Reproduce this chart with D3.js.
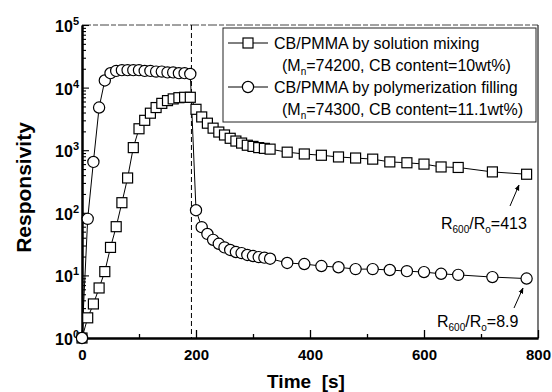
<!DOCTYPE html>
<html>
<head>
<meta charset="utf-8">
<script src="https://cdn.jsdelivr.net/npm/d3@7"></script>
<style>
  body { margin: 0; background: #fff; }
  svg { display: block; font-family: "Liberation Sans", Arial, sans-serif; }
</style>
</head>
<body>
<div id="chart"></div>
<script>
// time points (s) and responsivity
const timeMix = [0,10,20,30,40,50,60,70,80,90,100,110,120,130,140,150,160,170,180,190,
  200,210,220,230,240,250,260,270,280,290,300,310,320,330,360,390,420,450,480,510,540,570,600,630,660,720,780];
const respMix = [1,2.1,3.5,6.3,11.5,28,60,145,360,1100,2200,3000,3900,4800,5600,6200,6600,6900,7000,7000,
  4500,3400,2700,2250,1950,1750,1550,1400,1300,1200,1150,1100,1070,1040,930,870,830,780,750,720,650,630,600,540,530,450,413];

const timePoly = [0,10,20,30,40,50,60,70,80,90,100,110,120,130,140,150,160,170,180,190,
  200,210,220,230,240,250,260,270,280,290,300,310,320,330,360,390,420,450,480,510,540,570,600,630,660,720,780];
const respPoly = [1,80,650,4800,13000,17000,18500,19000,19000,19000,19000,18500,18500,18000,18000,17500,17500,17000,17000,16500,
  110,59,46,37,32,28,25.5,23.6,22.7,21.2,20.4,19.6,19.2,18.5,15.8,15.2,14.1,13.5,12.6,12.6,12.2,11.7,11.3,10.6,10.2,9.4,8.9];

const xTicks = [0,200,400,600,800];
const xMinor = [100,300,500,700];
const yExponents = [0,1,2,3,4,5];
const switchTime = 192;

const width = 552, height = 392;
const svg = d3.select('#chart').append('svg')
    .attr('width', width)
    .attr('height', height);

svg.append('rect').attr('width', width).attr('height', height).attr('fill', '#fff');

const x = d3.scaleLinear().domain([0, 800]).range([82, 538]);
const y = d3.scaleLog().domain([1, 1e5]).range([338, 25]);

// frame: top and right thin, left and bottom heavy
svg.append('line')
    .attr('x1', x(0)).attr('x2', x(800)).attr('y1', y(1e5)).attr('y2', y(1e5))
    .attr('stroke', '#444').attr('stroke-width', 1).attr('stroke-dasharray', '9 2 5 2');
svg.append('line')
    .attr('x1', x(800)).attr('x2', x(800)).attr('y1', y(1e5)).attr('y2', y(1))
    .attr('stroke', '#222').attr('stroke-width', 1.2);

// x axis
const xAxis = svg.append('g').attr('transform', `translate(0,${y(1)})`);
xAxis.call(d3.axisBottom(x).tickValues(xTicks).tickSize(-8).tickSizeOuter(0).tickPadding(11)
    .tickFormat(d3.format('d')));
xAxis.append('g').call(d3.axisBottom(x).tickValues(xMinor).tickSize(-4).tickSizeOuter(0).tickFormat(''));
xAxis.selectAll('path.domain').attr('stroke', '#000').attr('stroke-width', 2);
xAxis.selectAll('line').attr('stroke', '#000').attr('stroke-width', 1.3);
xAxis.selectAll('text')
    .attr('font-size', 15).attr('font-weight', 'bold').attr('fill', '#000')
    .attr('font-family', '"Liberation Sans", Arial, sans-serif');

// y axis (log)
const yAxis = svg.append('g').attr('transform', `translate(${x(0)},0)`);
const minorY = [];
yExponents.slice(0, -1).forEach(e => {
  for (let k = 2; k <= 9; k++) minorY.push(k * Math.pow(10, e));
});
yAxis.call(d3.axisLeft(y).tickValues(yExponents.map(e => Math.pow(10, e)))
    .tickSize(-7).tickSizeOuter(0).tickFormat(''));
yAxis.append('g').call(d3.axisLeft(y).tickValues(minorY).tickSize(-4).tickSizeOuter(0).tickFormat(''));
yAxis.selectAll('path.domain').attr('stroke', '#000').attr('stroke-width', 2);
yAxis.selectAll('line').attr('stroke', '#000').attr('stroke-width', 1.1);

const yLab = svg.append('g').selectAll('text')
    .data(yExponents)
    .join('text')
    .attr('x', 79)
    .attr('y', d => y(Math.pow(10, d)) + 7)
    .attr('text-anchor', 'end')
    .attr('font-size', 16).attr('font-weight', 'bold');
yLab.append('tspan').text('10');
yLab.append('tspan').attr('dy', -7).attr('font-size', 11).text(d => d);

// axis titles
svg.append('text')
    .attr('transform', `translate(31,${(y(1) + y(1e5)) / 2 + 6}) rotate(-90)`)
    .attr('text-anchor', 'middle')
    .attr('font-size', 21).attr('font-weight', 'bold')
    .text('Responsivity');
svg.append('text')
    .attr('x', 306).attr('y', 388)
    .attr('text-anchor', 'middle')
    .attr('font-size', 19).attr('font-weight', 'bold')
    .attr('xml:space', 'preserve').style('white-space', 'pre')
    .text('Time  [s]');

// dashed line where vapour was removed
svg.append('line')
    .attr('x1', x(switchTime)).attr('x2', x(switchTime))
    .attr('y1', y(1e5)).attr('y2', y(1))
    .attr('stroke', '#000').attr('stroke-width', 1).attr('stroke-dasharray', '5 3');

const line = d3.line().x(d => x(d[0])).y(d => y(d[1]));
const mixData = timeMix.map((t, i) => [t, respMix[i]]);
const polyData = timePoly.map((t, i) => [t, respPoly[i]]);

svg.append('path').datum(mixData).attr('d', line)
    .attr('fill', 'none').attr('stroke', '#000').attr('stroke-width', 1);
svg.append('path').datum(polyData).attr('d', line)
    .attr('fill', 'none').attr('stroke', '#000').attr('stroke-width', 1);

const sq = 10;
svg.append('g').selectAll('rect')
    .data(mixData)
    .join('rect')
    .attr('x', d => x(d[0]) - sq / 2)
    .attr('y', d => y(d[1]) - sq / 2)
    .attr('width', sq).attr('height', sq)
    .attr('fill', '#fff').attr('stroke', '#000').attr('stroke-width', 1.2);

svg.append('g').selectAll('circle')
    .data(polyData)
    .join('circle')
    .attr('cx', d => x(d[0]))
    .attr('cy', d => y(d[1]))
    .attr('r', 5.6)
    .attr('fill', '#fff').attr('stroke', '#000').attr('stroke-width', 1.2);

// legend
const lg = svg.append('g');
lg.append('rect')
    .attr('x', 223).attr('y', 28).attr('width', 313).attr('height', 94)
    .attr('fill', '#fff').attr('stroke', '#222').attr('stroke-width', 1);
const legendRows = [
  { y: 43, mark: 'square', main: 'CB/PMMA by solution mixing', mn: '74200', cb: '10wt%' },
  { y: 87, mark: 'circle', main: 'CB/PMMA by polymerization filling', mn: '74300', cb: '11.1wt%' }
];
legendRows.forEach(r => {
  lg.append('line').attr('x1', 228).attr('x2', 268).attr('y1', r.y).attr('y2', r.y)
      .attr('stroke', '#000').attr('stroke-width', 1);
  if (r.mark === 'square') {
    lg.append('rect').attr('x', 248 - sq / 2).attr('y', r.y - sq / 2).attr('width', sq).attr('height', sq)
        .attr('fill', '#fff').attr('stroke', '#000').attr('stroke-width', 1.2);
  } else {
    lg.append('circle').attr('cx', 248).attr('cy', r.y).attr('r', 5.6)
        .attr('fill', '#fff').attr('stroke', '#000').attr('stroke-width', 1.2);
  }
  lg.append('text').attr('x', 274).attr('y', r.y + 6)
      .attr('font-size', 16).text(r.main);
  const t2 = lg.append('text').attr('x', 282).attr('y', r.y + 28).attr('font-size', 16);
  t2.append('tspan').text('(M');
  t2.append('tspan').attr('dy', 4).attr('font-size', 10).text('n');
  t2.append('tspan').attr('dy', -4).text('=' + r.mn + ', CB content=' + r.cb + ')');
});

// end-point annotations
const notes = [
  { label: '413', lx: 441, ly: 229, from: [510, 206], to: [519, 185] },
  { label: '8.9', lx: 437, ly: 327, from: [514, 308], to: [523, 288] }
];
svg.append('defs').append('marker')
    .attr('id', 'arr').attr('viewBox', '0 0 10 10').attr('refX', 9).attr('refY', 5)
    .attr('markerWidth', 6).attr('markerHeight', 6).attr('orient', 'auto')
    .append('path').attr('d', 'M0,1 L10,5 L0,9 Z').attr('fill', '#000');
notes.forEach(n => {
  svg.append('line')
      .attr('x1', n.from[0]).attr('y1', n.from[1]).attr('x2', n.to[0]).attr('y2', n.to[1])
      .attr('stroke', '#000').attr('stroke-width', 1).attr('marker-end', 'url(#arr)');
  const tx = svg.append('text').attr('x', n.lx).attr('y', n.ly).attr('font-size', 16);
  tx.append('tspan').text('R');
  tx.append('tspan').attr('dy', 4).attr('font-size', 10).text('600');
  tx.append('tspan').attr('dy', -4).text('/R');
  tx.append('tspan').attr('dy', 4).attr('font-size', 10).text('o');
  tx.append('tspan').attr('dy', -4).text('=' + n.label);
});
</script>
</body>
</html>
